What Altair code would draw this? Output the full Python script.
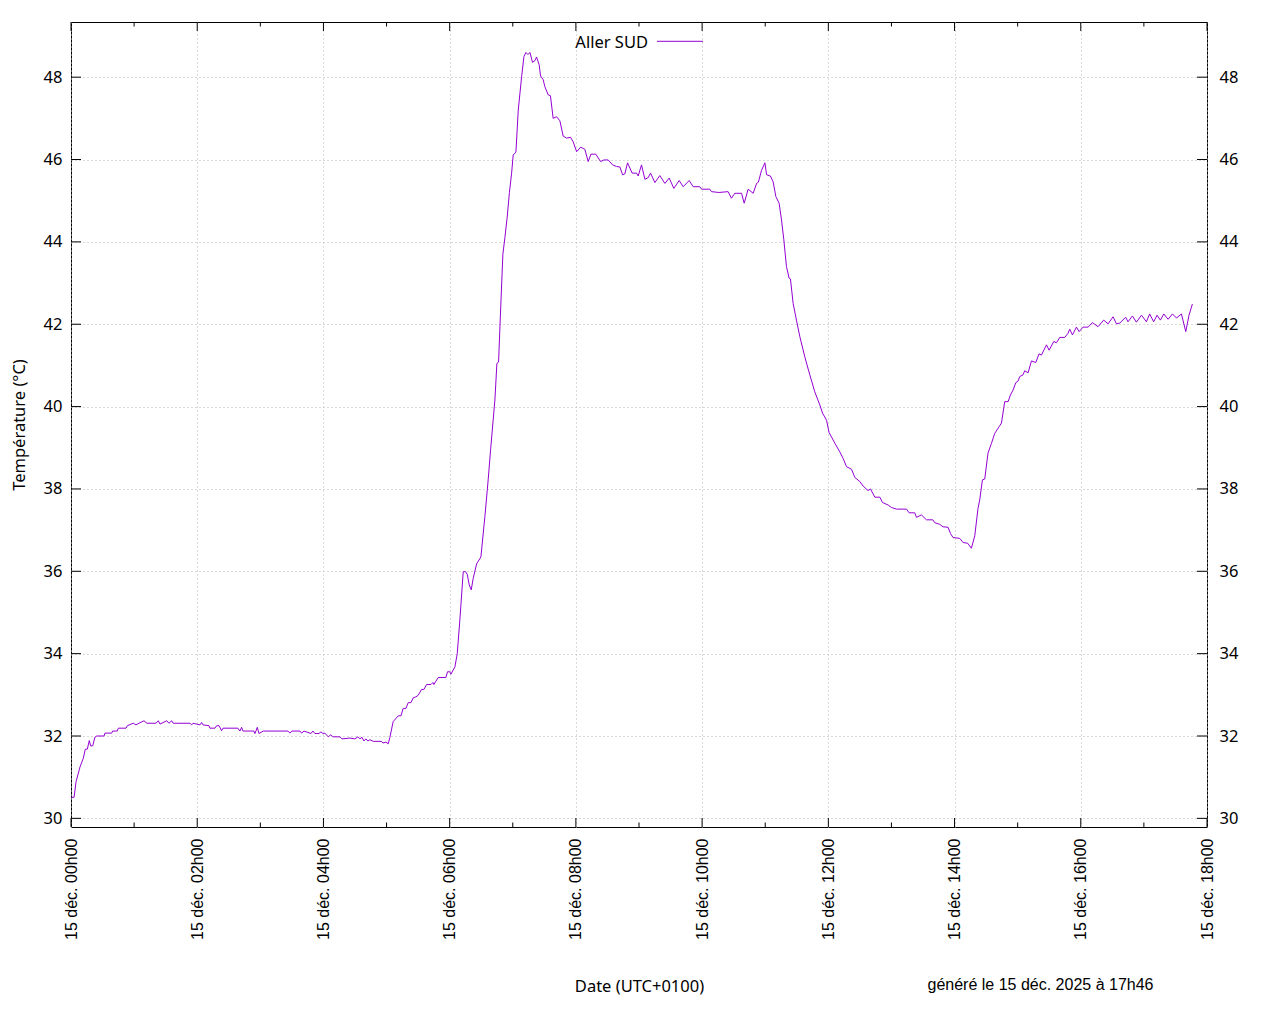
import altair as alt
import pandas as pd

serie_nom = "Aller SUD"

# minutes depuis 15 déc. 00h00 (UTC+0100)
minutes = [
    0, 2.9, 4.8, 8.6, 11.7, 13.6, 15.5, 17.4, 18.7, 20.6,
    22.8, 24.4, 31.4, 32.3, 38.7, 39.6, 44.0, 45.0, 52.3, 53.5,
    59.2, 61.8, 64.6, 69.4, 72.2, 80.8, 83.0, 84.6, 91.0, 93.1,
    95.7, 97.2, 113.1, 114.7, 116.0, 122.6, 124.2, 125.5, 131.2, 132.1,
    136.9, 138.5, 140.7, 143.2, 144.5, 158.7, 160.6, 162.2, 163.5, 173.9,
    174.9, 177.1, 178.7, 182.8, 206.3, 208.2, 210.0, 217.7, 219.3, 221.5,
    228.1, 230.0, 231.9, 235.7, 237.6, 239.5, 241.4, 244.6, 247.1, 249.0,
    255.7, 257.6, 265.2, 269.9, 272.8, 274.7, 276.6, 278.5, 280.4, 282.3,
    284.2, 287.3, 295.3, 296.6, 299.4, 301.6, 303.2, 306.3, 311.1, 313.7,
    315.8, 318.4, 320.6, 323.2, 325.4, 327.9, 330.1, 333.3, 335.5, 338.1,
    342.2, 344.1, 345.0, 349.1, 356.4, 358.0, 360.2, 361.2, 365.0, 367.2,
    369.7, 372.9, 375.1, 376.7, 378.6, 380.5, 382.4, 385.6, 389.7, 393.5,
    396.6, 398.9, 403.0, 404.9, 406.5, 408.2, 410.6, 412.5, 414.7, 416.8,
    418.9, 420.4, 423.0, 425.2, 428.4, 430.6, 432.5, 434.4, 436.3, 438.8,
    441.0, 442.6, 445.1, 446.4, 448.9, 450.5, 453.7, 455.8, 458.4, 461.6,
    464.8, 467.9, 471.2, 474.9, 477.4, 480.7, 484.5, 488.5, 491.7, 494.3,
    499.0, 503.5, 506.6, 510.7, 514.9, 518.7, 521.8, 524.4, 526.5, 529.1,
    533.5, 537.7, 539.2, 542.4, 545.6, 548.7, 551.0, 555.1, 559.8, 564.6,
    568.7, 573.1, 578.2, 582.0, 587.7, 591.5, 597.8, 599.5, 607.3, 608.9,
    615.9, 624.7, 627.9, 631.1, 637.5, 640.0, 643.8, 648.5, 651.8, 653.5,
    656.5, 659.7, 661.3, 664.9, 667.5, 670.1, 673.2, 675.5, 677.7, 680.2,
    682.7, 684.0, 686.5, 689.7, 692.9, 697.6, 702.4, 707.1, 711.9, 714.5,
    718.3, 720.7, 726.2, 730.9, 734.1, 737.3, 742.0, 745.2, 749.9, 753.1,
    757.8, 760.1, 764.2, 769.0, 771.5, 776.8, 780.0, 784.8, 794.3, 796.8,
    802.2, 803.8, 808.5, 813.3, 819.3, 821.2, 825.9, 829.0, 833.8, 836.1,
    838.5, 844.9, 848.1, 852.5, 856.0, 859.2, 862.3, 863.9, 866.5, 868.7,
    871.8, 875.1, 878.2, 882.3, 884.6, 887.7, 890.9, 893.1, 895.6, 898.2,
    900.4, 902.0, 905.1, 906.7, 909.9, 913.1, 917.2, 920.3, 922.6, 927.4,
    929.9, 934.3, 936.9, 940.0, 944.8, 947.9, 949.5, 952.1, 955.9, 958.4,
    962.2, 967.0, 971.1, 976.4, 981.8, 985.9, 990.7, 993.9, 997.1, 1002.7,
    1004.9, 1009.1, 1012.9, 1017.7, 1022.4, 1025.5, 1029.3, 1032.5, 1035.7, 1038.9,
    1043.0, 1047.2, 1051.0, 1055.7, 1059.8, 1062.9, 1066.1,
]

temperatures = [
    30.51, 30.51, 30.89, 31.25, 31.46, 31.68, 31.68, 31.89, 31.76, 31.76,
    31.97, 32.00, 32.00, 32.07, 32.07, 32.12, 32.12, 32.19, 32.19, 32.25,
    32.31, 32.27, 32.31, 32.37, 32.31, 32.31, 32.37, 32.29, 32.37, 32.31,
    32.37, 32.31, 32.31, 32.27, 32.31, 32.27, 32.33, 32.27, 32.25, 32.19,
    32.19, 32.25, 32.25, 32.13, 32.19, 32.19, 32.12, 32.21, 32.12, 32.12,
    32.06, 32.21, 32.06, 32.12, 32.12, 32.07, 32.12, 32.12, 32.07, 32.12,
    32.06, 32.12, 32.06, 32.06, 32.10, 32.06, 32.07, 31.98, 32.03, 31.98,
    31.98, 31.93, 31.95, 31.93, 31.98, 31.93, 31.97, 31.88, 31.93, 31.88,
    31.91, 31.87, 31.87, 31.83, 31.85, 31.81, 31.97, 32.35, 32.49, 32.49,
    32.67, 32.67, 32.81, 32.81, 32.93, 32.95, 32.99, 33.13, 33.13, 33.25,
    33.25, 33.30, 33.25, 33.42, 33.42, 33.56, 33.56, 33.50, 33.68, 34.00,
    34.82, 35.99, 35.99, 35.93, 35.67, 35.55, 35.83, 36.18, 36.35, 37.33,
    38.22, 38.95, 40.16, 41.05, 41.08, 42.20, 43.70, 44.10, 44.60, 45.20,
    45.67, 46.11, 46.18, 47.20, 48.01, 48.50, 48.60, 48.55, 48.60, 48.36,
    48.40, 48.49, 48.30, 48.03, 47.94, 47.77, 47.57, 47.55, 47.00, 47.04,
    46.94, 46.57, 46.52, 46.54, 46.43, 46.19, 46.30, 46.25, 45.95, 46.13,
    46.13, 45.95, 45.99, 45.99, 45.87, 45.83, 45.82, 45.63, 45.65, 45.92,
    45.67, 45.67, 45.60, 45.87, 45.52, 45.56, 45.67, 45.44, 45.61, 45.42,
    45.55, 45.30, 45.49, 45.34, 45.49, 45.34, 45.34, 45.28, 45.28, 45.22,
    45.20, 45.22, 45.06, 45.18, 45.18, 44.94, 45.28, 45.18, 45.42, 45.45,
    45.74, 45.92, 45.63, 45.60, 45.46, 45.10, 44.94, 44.53, 44.05, 43.40,
    43.12, 43.10, 42.51, 42.10, 41.70, 41.21, 40.77, 40.36, 40.04, 39.84,
    39.67, 39.37, 39.11, 38.90, 38.74, 38.54, 38.48, 38.28, 38.18, 38.07,
    37.96, 38.00, 37.80, 37.80, 37.67, 37.61, 37.55, 37.51, 37.51, 37.42,
    37.42, 37.31, 37.37, 37.25, 37.25, 37.18, 37.14, 37.08, 37.07, 36.92,
    36.82, 36.80, 36.70, 36.68, 36.56, 36.86, 37.53, 37.73, 38.22, 38.24,
    38.87, 39.11, 39.35, 39.51, 39.60, 40.12, 40.12, 40.28, 40.40, 40.58,
    40.62, 40.73, 40.77, 40.87, 40.82, 41.11, 41.07, 41.28, 41.25, 41.50,
    41.37, 41.58, 41.55, 41.68, 41.68, 41.78, 41.88, 41.74, 41.93, 41.82,
    41.93, 41.93, 42.04, 41.94, 42.10, 42.01, 42.18, 42.01, 42.03, 42.17,
    42.06, 42.20, 42.05, 42.22, 42.06, 42.25, 42.06, 42.22, 42.10, 42.25,
    42.12, 42.25, 42.15, 42.25, 41.82, 42.22, 42.49,
]

y_domaine = [29.79, 49.34]
y_graduations = [30, 32, 34, 36, 38, 40, 42, 44, 46, 48]
heures_majeures = [0, 2, 4, 6, 8, 10, 12, 14, 16, 18]
heures_mineures = [1, 3, 5, 7, 9, 11, 13, 15, 17]
etiquettes_x = [
    "15 déc. 00h00", "15 déc. 02h00", "15 déc. 04h00", "15 déc. 06h00",
    "15 déc. 08h00", "15 déc. 10h00", "15 déc. 12h00", "15 déc. 14h00",
    "15 déc. 16h00", "15 déc. 18h00",
]
titre_x = "Date (UTC+0100)"
titre_y = "Température (°C)"
texte_genere = "généré le 15 déc. 2025 à 17h46"

COULEUR = "#9400D3"
GRILLE = "#b4b4b4"
FS = 16.5
W, H = 1136, 805

df = pd.DataFrame({
    "heure": [m / 60.0 for m in minutes],
    "temp": temperatures,
    "serie": serie_nom,
})
df_y = pd.DataFrame({"v": y_graduations})
df_xmaj = pd.DataFrame({"heure": heures_majeures})
df_xmin = pd.DataFrame({"heure": heures_mineures})
df_leg = pd.DataFrame({"serie": [serie_nom]})
df_gen = pd.DataFrame({"t": [texte_genere]})

expr = ""
for h, lab in zip(heures_majeures, etiquettes_x):
    expr += f"datum.value == {h} ? '{lab}' : "
expr += "''"

x_scale = alt.Scale(domain=[0, 18], nice=False, zero=False)
y_scale = alt.Scale(domain=y_domaine, nice=False, zero=False)

x_axe = alt.Axis(
    values=heures_majeures, labelExpr=expr, labelAngle=270,
    labelAlign="right", labelBaseline="middle",
    labelFont="Liberation Sans", labelFontSize=16, labelColor="black",
    labelPadding=11, labelFlush=False, labelOverlap=False, labelBound=False,
    ticks=False, domain=False, grid=True, gridColor=GRILLE, gridDash=[1, 3],
    gridWidth=1, title=titre_x, titleFont="Noto Sans", titleFontSize=FS,
    titleFontWeight="normal", titleColor="black", titleX=568, titleY=159,
    titleAlign="center", titleBaseline="middle",
)


def X():
    return alt.X("heure:Q", scale=x_scale, axis=x_axe, title=titre_x)


ligne = alt.Chart(df).mark_line(color=COULEUR, strokeWidth=1).encode(
    x=X(),
    y=alt.Y("temp:Q", scale=y_scale, axis=alt.Axis(
        orient="left", values=y_graduations, ticks=False, domain=False,
        grid=True, gridColor=GRILLE, gridDash=[1, 3], gridWidth=1,
        labelPadding=9, labelFont="Noto Sans", labelFontSize=FS,
        labelColor="black", labelOverlap=False,
        title=titre_y, titleFont="Noto Sans", titleFontSize=FS,
        titleFontWeight="normal", titleColor="black",
        titleX=-51.5, titleY=402.5, titleAngle=270,
        titleAlign="center", titleBaseline="middle",
    )),
)

ticks_y_gauche = alt.Chart(df_y).mark_rule(color="black", strokeWidth=1).encode(
    y=alt.Y("v:Q", scale=y_scale, axis=None),
    x=alt.value(0), x2=alt.value(10),
)

ticks_y_droite = alt.Chart(df_y).mark_rule(color="black", strokeWidth=1).encode(
    y=alt.Y("v:Q", scale=y_scale, axis=alt.Axis(
        orient="right", values=y_graduations, ticks=False, domain=False,
        grid=False, labelPadding=12, labelFont="Noto Sans", labelFontSize=FS,
        labelColor="black", labelOverlap=False, title=None,
    )),
    x=alt.value(W - 10), x2=alt.value(W),
)

ticks_x_maj_bas = alt.Chart(df_xmaj).mark_rule(color="black", strokeWidth=1).encode(
    x=X(), y=alt.value(H), y2=alt.value(H - 9),
)
ticks_x_maj_haut = alt.Chart(df_xmaj).mark_rule(color="black", strokeWidth=1).encode(
    x=X(), y=alt.value(0), y2=alt.value(9),
)
ticks_x_min_bas = alt.Chart(df_xmin).mark_rule(color="black", strokeWidth=1).encode(
    x=X(), y=alt.value(H), y2=alt.value(H - 4.5),
)
ticks_x_min_haut = alt.Chart(df_xmin).mark_rule(color="black", strokeWidth=1).encode(
    x=X(), y=alt.value(0), y2=alt.value(4.5),
)

legende_texte = alt.Chart(df_leg).mark_text(
    align="right", baseline="middle", font="Noto Sans", fontSize=FS, color="black"
).encode(x=alt.value(577), y=alt.value(20.7), text="serie:N")

legende_ligne = alt.Chart(df_leg).mark_rule(color=COULEUR, strokeWidth=1).encode(
    x=alt.value(586), x2=alt.value(632), y=alt.value(19.3)
)

genere = alt.Chart(df_gen).mark_text(
    align="center", baseline="middle", font="Liberation Sans", fontSize=16, color="black"
).encode(x=alt.value(969.5), y=alt.value(963), text="t:N")

chart = alt.layer(
    ligne, ticks_y_gauche, ticks_y_droite,
    ticks_x_maj_bas, ticks_x_maj_haut, ticks_x_min_bas, ticks_x_min_haut,
    legende_texte, legende_ligne, genere,
).resolve_scale(y="independent").properties(
    width=W, height=H,
    autosize=alt.AutoSizeParams(type="none"),
    padding={"left": 63, "top": 14, "right": 58, "bottom": 180},
    background="white",
).configure_view(stroke="black", strokeWidth=1)

chart.save("out.html", embed_options={"renderer": "svg", "actions": False})
